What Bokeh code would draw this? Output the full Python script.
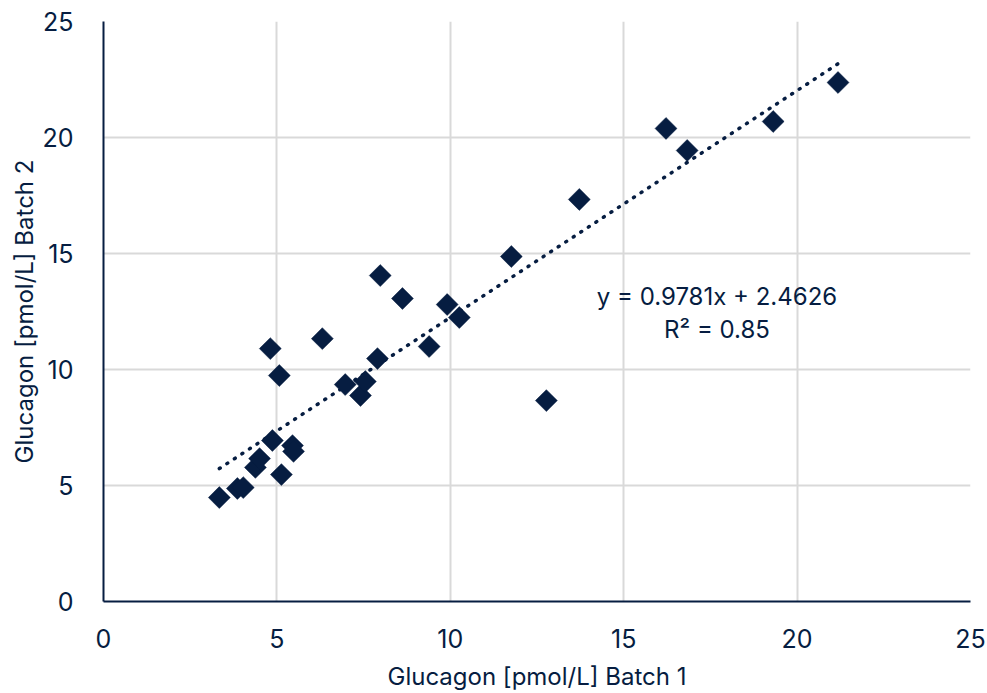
from bokeh.plotting import figure
from bokeh.models import Range1d, FixedTicker
from bokeh.core.properties import value
from bokeh.embed import file_html
from bokeh.resources import INLINE
import math

batch1 = [3.34, 3.86, 4.03, 4.38, 4.50, 4.87, 5.13, 5.45, 5.48, 4.81, 5.07, 6.31,
          6.97, 7.41, 7.55, 7.90, 7.98, 8.62, 9.39, 9.91, 10.26, 11.76, 12.77,
          13.72, 16.22, 16.83, 19.31, 21.18]
batch2 = [4.48, 4.87, 4.91, 5.78, 6.16, 6.94, 5.47, 6.72, 6.47, 10.90, 9.74, 11.33,
          9.35, 8.88, 9.48, 10.47, 14.05, 13.06, 10.99, 12.80, 12.24, 14.87, 8.66,
          17.33, 20.39, 19.44, 20.69, 22.37]
slope = 0.9781
intercept = 2.4626
r2 = 0.85
ticks = [0, 5, 10, 15, 20, 25]

NAVY = "#061d41"
FONT = "Inter"

p = figure(width=987, height=693, output_backend="svg", toolbar_location=None,
           x_range=Range1d(0, 25), y_range=Range1d(0, 25),
           min_border_left=103, min_border_right=17, min_border_top=21, min_border_bottom=91)
p.outline_line_color = None
p.background_fill_color = "white"

for ax in (p.xaxis, p.yaxis):
    ax.ticker = FixedTicker(ticks=ticks)
    ax.axis_line_color = NAVY
    ax.axis_line_width = 2
    ax.major_tick_line_color = None
    ax.minor_tick_line_color = None
    ax.major_label_text_font = FONT
    ax.major_label_text_font_size = "25px"
    ax.major_label_text_color = NAVY
    ax.axis_label_text_font = FONT
    ax.axis_label_text_font_size = "24px"
    ax.axis_label_text_color = NAVY
    ax.axis_label_text_font_style = "normal"

p.xaxis.axis_label = "Glucagon [pmol/L] Batch 1"
p.yaxis.axis_label = "Glucagon [pmol/L] Batch 2"
p.xaxis.major_label_standoff = 21
p.xaxis.axis_label_standoff = 11
p.yaxis.major_label_standoff = 24
p.yaxis.axis_label_standoff = 0

for g in (p.xgrid, p.ygrid):
    g.ticker = FixedTicker(ticks=ticks)
    g.grid_line_color = "#d9d9d9"
    g.grid_line_width = 2

x0, x1 = min(batch1), max(batch1)
p.line([x0, x1], [slope * x0 + intercept, slope * x1 + intercept],
       line_color=NAVY, line_width=3.5, line_dash="1 8", line_cap="round")

p.scatter(batch1, batch2, marker="square", size=15.5, angle=math.pi / 4,
          fill_color=NAVY, line_color=NAVY, line_width=0.5)

p.text([17.69], [13.15], text=[f"y = {slope}x + {intercept}"], text_font=value(FONT),
       text_font_size="24px", text_color=NAVY, text_align="center", text_baseline="middle")
p.text([17.69], [11.72], text=[f"R² = {r2}"], text_font=value(FONT),
       text_font_size="24px", text_color=NAVY, text_align="center", text_baseline="middle")

open("out.html", "w").write(file_html(p, INLINE))
